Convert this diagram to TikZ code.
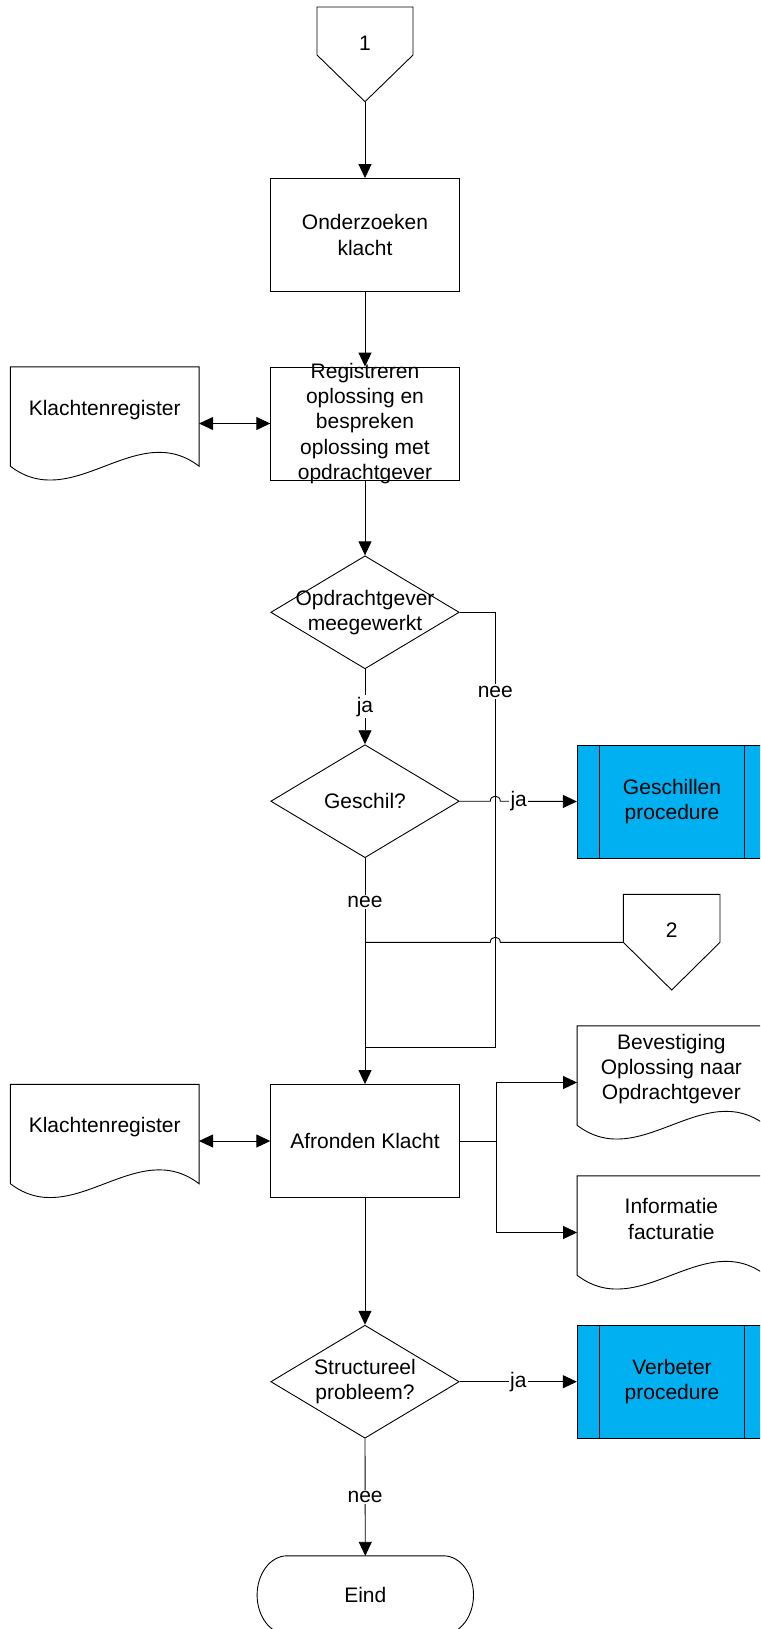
\documentclass[tikz,border=0pt]{standalone}
\usepackage{fontspec}
\setmainfont{Liberation Sans}
\usetikzlibrary{arrows.meta,shapes.geometric,calc}
\definecolor{procblue}{HTML}{00B0F0}
\newcommand\drawdoc[1]{\draw[ln] (#1.north west) -- (#1.north east) -- ($(#1.south east)+(0,-14)$) .. controls ($(#1.south east)+(-62.7,-62)$) and ($(#1.south west)+(62.7,34)$) .. ($(#1.south west)+(0,-14)$) -- cycle;}
\newcommand\drawproclines[1]{\draw[ln] ([xshift=23pt]#1.north west) -- ([xshift=23pt]#1.south west);
  \draw[ln] ([xshift=-23pt]#1.north east) -- ([xshift=-23pt]#1.south east);}
\begin{document}
\begin{tikzpicture}[x=1pt,y=-1pt,
  ln/.style={line width=0.9pt, draw=black},
  arr/.style={ln, -{Triangle[length=14pt,width=13pt]}},
  darr/.style={ln, {Triangle[length=14pt,width=13pt]}-{Triangle[length=14pt,width=13pt]}},
  txt/.style={font=\fontsize{21pt}{25.3pt}\selectfont, align=center},
  box/.style={ln, rectangle, minimum width=188.5pt, minimum height=113pt, inner sep=0pt, txt},
  dia/.style={ln, diamond, minimum width=188.5pt, minimum height=113pt, inner sep=0pt},
  docnode/.style={rectangle, minimum width=188.3pt, minimum height=113pt, inner sep=0pt},
  proc/.style={box, fill=procblue, minimum width=189.4pt},
  term/.style={rectangle, minimum width=216pt, minimum height=78pt, inner sep=0pt, txt},
  lbl/.style={txt, fill=white, inner sep=1.5pt},
  every label/.style={txt}]
\useasboundingbox (0,0) rectangle (760,1629);
\fill[white] (0,0) rectangle (760,1629);
\clip (0,0) rectangle (760,1629);

% off-page connector 1
\coordinate (c1tip) at (365,101.7);
\draw[ln] (317,7) -- (413,7) -- (413,55) -- (c1tip) -- (317,55) -- cycle;
\node[txt] (c1) at (365,43) {1};

\node[box] (onderzoek) at (365,235) {Onderzoeken\\klacht};
\node[docnode, label={[yshift=13.5pt]center:Klachtenregister}] (reg1) at (104.7,423.5) {};
\drawdoc{reg1}
\node[box, label={center:Registreren\\oplossing en\\bespreken\\oplossing met\\opdrachtgever}] (registreren) at (365,423.5) {};
\node[dia, label={center:Opdrachtgever\\meegewerkt}] (dec1) at (365,612.3) {};
\node[dia, label={center:Geschil?}] (dec2) at (365,801.2) {};
\node[proc] (geschil) at (672,801.5) {Geschillen\\procedure};
\drawproclines{geschil}

% off-page connector 2
\coordinate (c2sl) at (623.3,942.3);
\coordinate (c2tip) at (671.7,990);
\draw[ln] (623.3,894.3) -- (720,894.3) -- (720,942.3) -- (c2tip) -- (c2sl) -- cycle;
\node[txt] (c2) at (671.7,930) {2};

\node[box] (afronden) at (365,1141) {Afronden Klacht};
\node[docnode, label={[yshift=13.5pt]center:Klachtenregister}] (reg2) at (104.7,1141) {};
\drawdoc{reg2}
\node[docnode, label={[yshift=13.5pt]center:Bevestiging\\Oplossing naar\\Opdrachtgever}] (bev) at (671.4,1082.5) {};
\drawdoc{bev}
\node[docnode, label={[yshift=13.5pt]center:Informatie\\facturatie}] (info) at (671.4,1232.5) {};
\drawdoc{info}
\node[dia, label={center:Structureel\\probleem?}] (dec3) at (365,1381.7) {};
\node[proc] (verbeter) at (672,1381.7) {Verbeter\\procedure};
\drawproclines{verbeter}
\node[term] (eind) at (365.3,1595) {Eind};
\draw[ln] ($(eind.north west)+(30,0)$) -- ($(eind.north east)+(-30,0)$)
  .. controls +(16.6,0) and +(0,-21.5) .. (eind.east)
  .. controls +(0,21.5) and +(16.6,0) .. ($(eind.south east)+(-30,0)$)
  -- ($(eind.south west)+(30,0)$)
  .. controls +(-16.6,0) and +(0,21.5) .. (eind.west)
  .. controls +(0,-21.5) and +(-16.6,0) .. ($(eind.north west)+(30,0)$) -- cycle;

% connectors
\coordinate (jx) at (495.3,0);
\coordinate (m1) at (365,942.3);
\coordinate (m2) at (365,1047.7);
\coordinate (sx) at (496.6,1141);
\draw[arr] (c1tip) -- (onderzoek.north);
\draw[arr] (onderzoek.south) -- (registreren.north);
\draw[darr] (reg1.east) -- (registreren.west);
\draw[arr] (registreren.south) -- (dec1.north);
\draw[arr] (dec1.south) -- node[lbl]{ja} (dec2.north);
\draw[ln] (dec1.east) -- (dec1.east -| jx) -- node[lbl,pos=0.182]{nee} (jx |- m2) -- (m2);
\draw[arr] (dec2.east) -- ($(dec2.east -| jx)+(-5,0)$) .. controls +(0,-6.7) and +(0,-6.7) .. ($(dec2.east -| jx)+(5,0)$) -- node[lbl,pos=0.24]{ja} (geschil.west);
\draw[arr] (dec2.south) -- node[lbl,pos=0.194]{nee} (afronden.north);
\draw[ln] (c2sl) -- ($(c2sl -| jx)+(5,0)$) .. controls +(0,-6.7) and +(0,-6.7) .. ($(c2sl -| jx)+(-5,0)$) -- (m1);
\draw[darr] (reg2.east) -- (afronden.west);
\draw[ln] (afronden.east) -- (sx);
\draw[arr] (sx) |- (bev.west);
\draw[arr] (sx) |- (info.west);
\draw[arr] (afronden.south) -- (dec3.north);
\draw[arr] (dec3.east) -- node[lbl]{ja} (verbeter.west);
\draw[arr] (dec3.south) -- node[lbl]{nee} (eind.north);
\end{tikzpicture}
\end{document}
